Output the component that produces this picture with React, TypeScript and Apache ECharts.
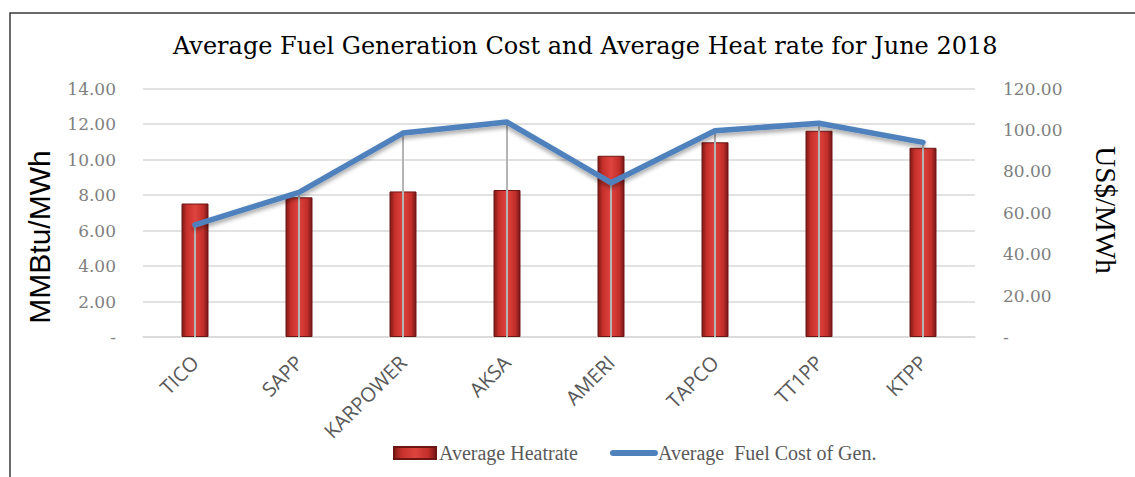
import React, { useEffect, useRef } from "react";
import * as echarts from "echarts";

const categories = ["TICO", "SAPP", "KARPOWER", "AKSA", "AMERI", "TAPCO", "TT1PP", "KTPP"];
const heatRate = [7.52, 7.87, 8.2, 8.28, 10.21, 10.97, 11.62, 10.66];
const fuelCost = [54.1, 69.8, 98.5, 103.8, 74.5, 99.6, 103.2, 94.0];
const leftTicks = [0, 2, 4, 6, 8, 10, 12, 14];
const rightTicks = [0, 20, 40, 60, 80, 100, 120];
const titleText = "Average Fuel Generation Cost and Average Heat rate for June 2018";
const barName = "Average Heatrate";
const lineName = "Average  Fuel Cost of Gen.";

const SERIF = "'Liberation Serif', 'DejaVu Serif', serif";
const WIDE_SERIF = "'DejaVu Serif', 'Liberation Serif', serif";
const SANS = "'Open Sans', 'Liberation Sans', sans-serif";

export default function App() {
  const ref = useRef<HTMLDivElement>(null);
  useEffect(() => {
    if (!ref.current) return;
    const chart = echarts.init(ref.current, null, { renderer: "svg" });
    const barGrad = new echarts.graphic.LinearGradient(0, 0, 1, 0, [
      { offset: 0, color: "#7e1a18" },
      { offset: 0.18, color: "#c5302b" },
      { offset: 0.5, color: "#df433e" },
      { offset: 0.82, color: "#c22e2a" },
      { offset: 1, color: "#731614" },
    ]);
    const fmt = (v: number) => (v === 0 ? "-" : v.toFixed(2));
    chart.setOption({
      animation: false,
      backgroundColor: "#ffffff",
      title: {
        text: titleText,
        left: 168,
        top: 29,
        textStyle: { fontFamily: WIDE_SERIF, fontSize: 24, fontWeight: "normal", color: "#000000" },
      },
      grid: { left: 143, right: 160, top: 88.5, bottom: 140, containLabel: false },
      legend: {
        left: 388,
        top: 438,
        itemWidth: 42,
        itemHeight: 12,
        itemGap: 32,
        textStyle: { fontFamily: SERIF, fontSize: 20, color: "#595959", padding: [0, 0, 0, -2] },
        data: [
          { name: barName, icon: "rect" },
          {
            name: lineName,
            itemStyle: { color: "rgba(0,0,0,0)", borderWidth: 0, opacity: 0 },
            lineStyle: { color: "#4f81bd", width: 6, cap: "round" },
          },
        ],
      },
      graphic: [
        {
          type: "rect",
          shape: { x: 10, y: 13, width: 1140, height: 480 },
          style: { fill: "none", stroke: "#3a3a3a", lineWidth: 1.5 },
          silent: true,
        },
        {
          type: "text",
          x: 39,
          y: 237,
          rotation: Math.PI / 2,
          style: {
            text: "MMBtu/MWh",
            fontFamily: "'Liberation Sans', Arial, sans-serif",
            fontSize: 30,
            fill: "#000000",
            align: "center",
            verticalAlign: "middle",
          },
        },
        {
          type: "text",
          x: 1106,
          y: 210,
          rotation: -Math.PI / 2,
          style: {
            text: "US$/MWh",
            fontFamily: SERIF,
            fontSize: 29,
            fill: "#000000",
            align: "center",
            verticalAlign: "middle",
          },
        },
      ],
      xAxis: {
        type: "category",
        data: categories,
        axisLine: { show: true, lineStyle: { color: "#d9d9d9", width: 1.5 } },
        axisTick: { show: false },
        axisLabel: {
          rotate: 45,
          margin: 22,
          fontFamily: SANS,
          fontSize: 20,
          color: "#595959",
        },
      },
      yAxis: [
        {
          type: "value",
          min: leftTicks[0],
          max: leftTicks[leftTicks.length - 1],
          interval: leftTicks[1] - leftTicks[0],
          axisLine: { show: false },
          axisTick: { show: false },
          splitLine: { lineStyle: { color: "#d9d9d9", width: 1.5 } },
          axisLabel: {
            margin: 27,
            fontFamily: WIDE_SERIF,
            fontSize: 17,
            color: "#7f7f7f",
            formatter: fmt,
          },
        },
        {
          type: "value",
          min: rightTicks[0],
          max: rightTicks[rightTicks.length - 1],
          interval: rightTicks[1] - rightTicks[0],
          axisLine: { show: false },
          axisTick: { show: false },
          splitLine: { show: false },
          axisLabel: {
            margin: 28,
            fontFamily: WIDE_SERIF,
            fontSize: 17,
            color: "#7f7f7f",
            formatter: fmt,
          },
        },
      ],
      series: [
        {
          name: barName,
          type: "bar",
          data: heatRate,
          barWidth: 27,
          yAxisIndex: 0,
          z: 2,
          itemStyle: { color: barGrad, borderColor: "#6e1614", borderWidth: 1 },
        },
        {
          name: "drop",
          type: "custom",
          yAxisIndex: 1,
          z: 3,
          silent: true,
          data: fuelCost.map((v, i) => [i, v]),
          renderItem: (params: any, api: any) => {
            const top = api.coord([api.value(0), api.value(1)]);
            const bottom = api.coord([api.value(0), 0]);
            return {
              type: "line",
              shape: { x1: top[0], y1: top[1], x2: bottom[0], y2: bottom[1] },
              style: { stroke: "#b4b4b4", lineWidth: 2 },
            };
          },
        },
        {
          name: lineName,
          type: "line",
          yAxisIndex: 1,
          data: fuelCost,
          symbol: "none",
          z: 4,
          lineStyle: {
            color: "#4f81bd",
            width: 5.5,
            cap: "round",
            join: "round",
            shadowColor: "rgba(0,0,0,0.35)",
            shadowBlur: 4,
            shadowOffsetY: 3,
          },
          itemStyle: { color: "#4f81bd" },
        },
      ],
    });
    return () => chart.dispose();
  }, []);
  return (
    <div
      ref={ref}
      style={{ position: "fixed", left: 0, top: 0, width: 1135, height: 477 }}
    />
  );
}
